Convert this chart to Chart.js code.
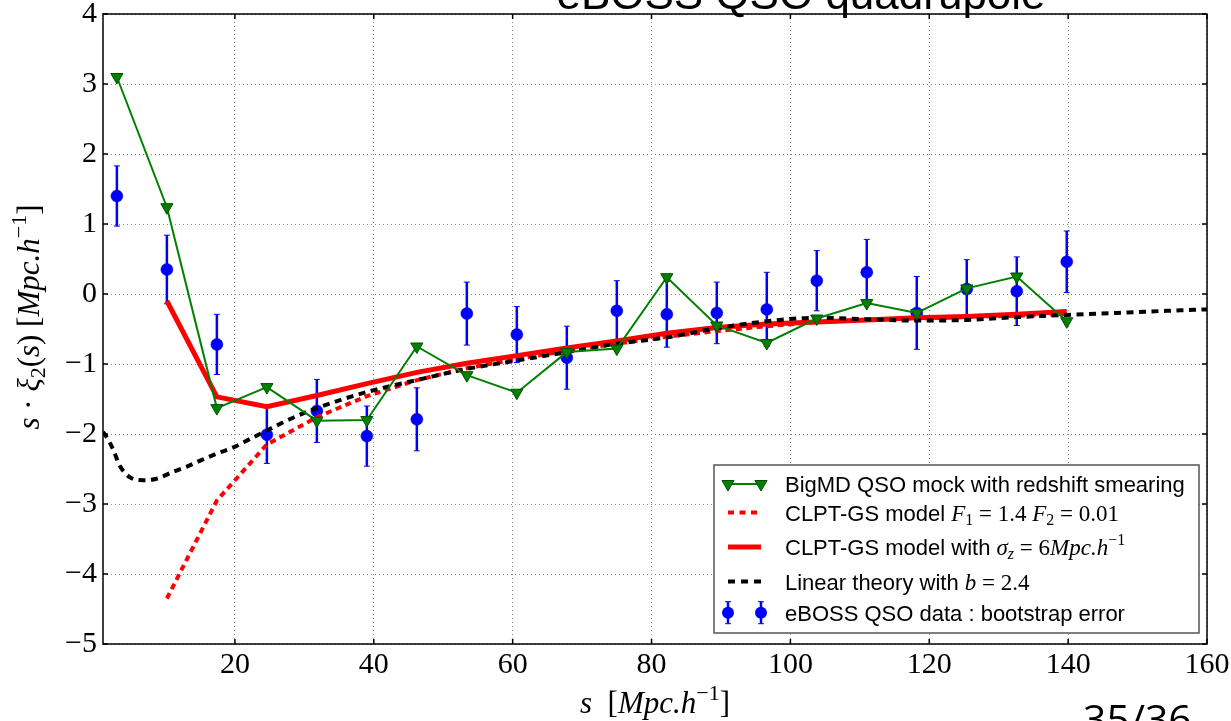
<!DOCTYPE html>
<html><head><meta charset="utf-8">
<script src="https://cdn.jsdelivr.net/npm/chart.js@4.4.0/dist/chart.umd.min.js"></script>
<style>html,body{margin:0;padding:0;background:#fff;} canvas{display:block}</style>
</head><body>
<canvas id="c" width="1231" height="721"></canvas>
<script>
// ---------- data ----------
const sBins = [3.0, 10.2, 17.4, 24.6, 31.8, 39.0, 46.2, 53.4, 60.6, 67.8, 75.0, 82.2, 89.4, 96.6, 103.8, 111.0, 118.2, 125.4, 132.6, 139.8];
const mockValues = [3.10, 1.24, -1.63, -1.33, -1.81, -1.80, -0.75, -1.16, -1.41, -0.83, -0.78, 0.24, -0.45, -0.70, -0.35, -0.13, -0.27, 0.08, 0.25, -0.39];
const dataValues = [1.40, 0.35, -0.72, -2.01, -1.67, -2.03, -1.79, -0.28, -0.58, -0.91, -0.24, -0.29, -0.27, -0.22, 0.19, 0.31, -0.27, 0.07, 0.04, 0.46];
const dataErrors = [0.43, 0.49, 0.43, 0.41, 0.45, 0.43, 0.45, 0.45, 0.40, 0.45, 0.43, 0.47, 0.44, 0.53, 0.43, 0.47, 0.52, 0.42, 0.49, 0.44];
const modelS = [10.2, 17.4, 24.6, 31.8, 39.0, 46.2, 53.4, 60.6, 67.8, 75.0, 82.2, 89.4, 96.6, 103.8, 111.0, 118.2, 125.4, 132.6, 139.8];
const clptSmearValues = [-0.10, -1.47, -1.61, -1.45, -1.28, -1.12, -0.99, -0.88, -0.77, -0.67, -0.56, -0.48, -0.43, -0.40, -0.37, -0.34, -0.32, -0.29, -0.25];
const clptValues = [-4.35, -2.95, -2.15, -1.76, -1.46, -1.23, -1.06, -0.93, -0.81, -0.71, -0.61, -0.53, -0.46, -0.40, -0.37, -0.35, -0.33, -0.31, -0.29];
const linearS = [1.0, 1.5, 2.5, 3.4, 4.9, 6.8, 8.7, 11.1, 13.0, 15.0, 17.4, 19.8, 22.2, 24.6, 27.0, 29.0, 31.8, 39.0, 46.2, 53.4, 60.6, 67.8, 75.0, 82.2, 89.4, 96.6, 103.8, 111.0, 118.2, 125.4, 132.6, 139.8, 147.0, 154.2, 160.0];
const linearValues = [-1.97, -2.04, -2.23, -2.45, -2.62, -2.66, -2.64, -2.54, -2.47, -2.38, -2.28, -2.19, -2.07, -1.95, -1.83, -1.74, -1.63, -1.40, -1.23, -1.07, -0.95, -0.83, -0.71, -0.62, -0.49, -0.39, -0.34, -0.36, -0.38, -0.37, -0.33, -0.30, -0.27, -0.24, -0.22];
const xTickValues = [20, 40, 60, 80, 100, 120, 140, 160];
const yTickValues = [-5, -4, -3, -2, -1, 0, 1, 2, 3, 4];
const chartTitle = 'eBOSS QSO quadrupole';
const pageNumber = '35/36';
const legendLabels = [
  'BigMD QSO mock with redshift smearing',
  'CLPT-GS model ',
  'CLPT-GS model with ',
  'Linear theory with ',
  'eBOSS QSO data : bootstrap error'
];

// ---------- helpers ----------
const SERIF = '"Liberation Serif", "DejaVu Serif", serif';
const SANS = '"Liberation Sans", Arial, sans-serif';
const pts = (xs, ys) => xs.map((x, i) => ({x: x, y: ys[i]}));
const fmt = v => String(v).replace('-', '\u2212');
function richWidth(ctx, segs) { let w = 0; for (const s of segs) { ctx.font = s.f; w += ctx.measureText(s.t).width; } return w; }
function drawRich(ctx, x, y, segs) { for (const s of segs) { ctx.font = s.f; ctx.fillText(s.t, x, y + (s.dy || 0)); x += ctx.measureText(s.t).width; } return x; }
function tri(ctx, x, y, r) {
  ctx.beginPath();
  ctx.moveTo(x, y + r);
  ctx.lineTo(x - Math.sin(Math.PI / 3) * r, y - r / 2);
  ctx.lineTo(x + Math.sin(Math.PI / 3) * r, y - r / 2);
  ctx.closePath();
  ctx.fillStyle = '#008000'; ctx.fill();
  ctx.strokeStyle = '#005000'; ctx.lineWidth = 1; ctx.stroke();
}

const errorBars = {
  id: 'errorBars',
  beforeDatasetsDraw(chart) {
    const {ctx, chartArea: a, scales: {x, y}} = chart;
    ctx.save();
    ctx.beginPath(); ctx.rect(a.left, a.top, a.right - a.left, a.bottom - a.top); ctx.clip();
    ctx.strokeStyle = '#0000ff';
    sBins.forEach((s, i) => {
      const px = x.getPixelForValue(s);
      const y1 = y.getPixelForValue(dataValues[i] + dataErrors[i]);
      const y2 = y.getPixelForValue(dataValues[i] - dataErrors[i]);
      ctx.lineWidth = 2.5;
      ctx.beginPath(); ctx.moveTo(px, y1); ctx.lineTo(px, y2); ctx.stroke();
      ctx.lineWidth = 1;
      ctx.beginPath(); ctx.moveTo(px - 3, y1); ctx.lineTo(px + 3, y1); ctx.moveTo(px - 3, y2); ctx.lineTo(px + 3, y2); ctx.stroke();
    });
    ctx.restore();
  }
};

const frameAndDecor = {
  id: 'frameAndDecor',
  afterDatasetsDraw(chart) {
    const {ctx, chartArea: a, scales: {x, y}} = chart;
    ctx.save();
    ctx.strokeStyle = '#000'; ctx.lineWidth = 1.5;
    ctx.strokeRect(a.left, a.top, a.right - a.left, a.bottom - a.top);
    ctx.beginPath();
    xTickValues.forEach(v => { const p = x.getPixelForValue(v); ctx.moveTo(p, a.bottom); ctx.lineTo(p, a.bottom - 5); ctx.moveTo(p, a.top); ctx.lineTo(p, a.top + 5); });
    yTickValues.forEach(v => { const p = y.getPixelForValue(v); ctx.moveTo(a.left, p); ctx.lineTo(a.left + 5, p); ctx.moveTo(a.right, p); ctx.lineTo(a.right - 5, p); });
    ctx.stroke();

    // legend
    const L = 714, T = 465, W = 485, H = 168;
    ctx.fillStyle = '#fff'; ctx.fillRect(L, T, W, H);
    ctx.strokeStyle = '#555'; ctx.lineWidth = 1.5; ctx.strokeRect(L, T, W, H);
    const rows = [484, 512.5, 547, 581.5, 612.7];
    const x1 = 728, x2 = 761, tx = 785;
    // row 1
    ctx.strokeStyle = '#008000'; ctx.lineWidth = 2;
    ctx.beginPath(); ctx.moveTo(x1, rows[0]); ctx.lineTo(x2, rows[0]); ctx.stroke();
    tri(ctx, x1, rows[0], 7); tri(ctx, x2, rows[0], 7);
    // row 2
    ctx.strokeStyle = '#ff0000'; ctx.lineWidth = 4; ctx.setLineDash([6, 5.5]);
    ctx.beginPath(); ctx.moveTo(x1, rows[1]); ctx.lineTo(x2, rows[1]); ctx.stroke();
    // row 3
    ctx.setLineDash([]); ctx.lineWidth = 5;
    ctx.beginPath(); ctx.moveTo(x1, rows[2]); ctx.lineTo(x2, rows[2]); ctx.stroke();
    // row 4
    ctx.strokeStyle = '#000'; ctx.lineWidth = 4; ctx.setLineDash([7, 6]);
    ctx.beginPath(); ctx.moveTo(x1, rows[3]); ctx.lineTo(x2, rows[3]); ctx.stroke();
    ctx.setLineDash([]);
    // row 5
    [x1, x2].forEach(px => {
      ctx.strokeStyle = '#0000ff'; ctx.lineWidth = 2.5;
      ctx.beginPath(); ctx.moveTo(px, rows[4] - 11); ctx.lineTo(px, rows[4] + 11); ctx.stroke();
      ctx.lineWidth = 1;
      ctx.beginPath(); ctx.moveTo(px - 3, rows[4] - 11); ctx.lineTo(px + 3, rows[4] - 11); ctx.moveTo(px - 3, rows[4] + 11); ctx.lineTo(px + 3, rows[4] + 11); ctx.stroke();
      ctx.beginPath(); ctx.arc(px, rows[4], 6, 0, Math.PI * 2); ctx.fillStyle = '#0000ff'; ctx.fill();
    });
    ctx.fillStyle = '#000'; ctx.textAlign = 'left'; ctx.textBaseline = 'alphabetic';
    const sf = `22px ${SANS}`, mi = `italic 23px ${SERIF}`, mn = `23px ${SERIF}`, ms = `16px ${SERIF}`, msi = `italic 16px ${SERIF}`;
    const off = 8;
    drawRich(ctx, tx, rows[0] + off, [{t: legendLabels[0], f: sf}]);
    drawRich(ctx, tx, rows[1] + off, [{t: legendLabels[1], f: sf}, {t: 'F', f: mi}, {t: '1', f: ms, dy: 4}, {t: ' = 1.4 ', f: mn}, {t: 'F', f: mi}, {t: '2', f: ms, dy: 4}, {t: ' = 0.01', f: mn}]);
    drawRich(ctx, tx, rows[2] + off, [{t: legendLabels[2], f: sf}, {t: 'σ', f: mi}, {t: 'z', f: msi, dy: 4}, {t: ' = 6', f: mn}, {t: 'Mpc.h', f: mi}, {t: '\u22121', f: ms, dy: -10}]);
    drawRich(ctx, tx, rows[3] + off, [{t: legendLabels[3], f: sf}, {t: 'b', f: mi}, {t: ' = 2.4', f: mn}]);
    drawRich(ctx, tx, rows[4] + off, [{t: legendLabels[4], f: sf}]);
    ctx.restore();
  },
  afterDraw(chart) {
    const {ctx, chartArea: a} = chart;
    ctx.save();
    ctx.fillStyle = '#000'; ctx.textBaseline = 'alphabetic';
    // title (partly outside the top of the image)
    ctx.font = `44px ${SANS}`; ctx.textAlign = 'center';
    ctx.fillText(chartTitle, 801, 9);
    // page number (cut at bottom)
    ctx.font = `41px "Open Sans", "Noto Sans", sans-serif`; ctx.textAlign = 'left';
    ctx.fillText(pageNumber, 1083, 734);
    // axis titles
    ctx.textAlign = 'left';
    const N = `31px ${SERIF}`, I = `italic 31px ${SERIF}`, S = `22px ${SERIF}`;
    const xt = [{t: 's', f: I}, {t: '  [', f: N}, {t: 'Mpc.h', f: I}, {t: '\u22121', f: S, dy: -13}, {t: ']', f: N}];
    const cx = (a.left + a.right) / 2;
    drawRich(ctx, cx - richWidth(ctx, xt) / 2, 713, xt);
    const yt = [{t: 's', f: I}, {t: ' · ', f: N}, {t: 'ξ', f: I}, {t: '2', f: S, dy: 6}, {t: '(', f: N}, {t: 's', f: I}, {t: ') [', f: N}, {t: 'Mpc.h', f: I}, {t: '\u22121', f: S, dy: -13}, {t: ']', f: N}];
    ctx.translate(39, 317); ctx.rotate(-Math.PI / 2);
    drawRich(ctx, -richWidth(ctx, yt) / 2, 0, yt);
    ctx.restore();
  }
};

new Chart(document.getElementById('c'), {
  type: 'line',
  data: {
    datasets: [
      {label: legendLabels[0], data: pts(sBins, mockValues), borderColor: '#008000', backgroundColor: '#008000', borderWidth: 2,
       pointStyle: 'triangle', rotation: 180, pointRadius: 7, pointBorderColor: '#005000', pointBorderWidth: 1, tension: 0},
      {label: 'Linear theory', data: pts(linearS, linearValues), borderColor: '#000', borderWidth: 4, borderDash: [7, 5.5], pointRadius: 0, cubicInterpolationMode: 'monotone'},
      {label: 'CLPT smear', data: pts(modelS, clptSmearValues), borderColor: '#ff0000', borderWidth: 5, pointRadius: 0, tension: 0},
      {label: 'CLPT', data: pts(modelS, clptValues), borderColor: '#ff0000', borderWidth: 4, borderDash: [6, 4.5], pointRadius: 0, tension: 0},
      {label: legendLabels[4], data: pts(sBins, dataValues), showLine: false, pointRadius: 6, pointBackgroundColor: '#0000ff', pointBorderColor: '#0000cc', pointBorderWidth: 0.5}
    ]
  },
  options: {
    responsive: false, animation: false, devicePixelRatio: 1,
    layout: {padding: {left: 0, right: 24, top: 14, bottom: 0}},
    plugins: {legend: {display: false}, tooltip: {enabled: false}, title: {display: false}},
    scales: {
      x: {type: 'linear', min: 1, max: 160,
        afterBuildTicks: s => { s.ticks = xTickValues.map(v => ({value: v})); },
        afterFit: s => { s.height = 77; s.paddingLeft = 0; s.paddingRight = 0; },
        ticks: {font: {family: SERIF, size: 30}, color: '#000', padding: 3, maxRotation: 0, autoSkip: false, callback: fmt},
        grid: {color: '#8c8c8c', lineWidth: 1, drawTicks: false}, border: {display: false, dash: [1, 3]}},
      y: {type: 'linear', min: -5, max: 4,
        afterBuildTicks: s => { s.ticks = yTickValues.map(v => ({value: v})); },
        afterFit: s => { s.width = 103; s.paddingTop = 0; s.paddingBottom = 0; },
        ticks: {font: {family: SERIF, size: 30}, color: '#000', padding: 6, autoSkip: false, callback: fmt},
        grid: {color: '#8c8c8c', lineWidth: 1, drawTicks: false}, border: {display: false, dash: [1, 3]}}
    }
  },
  plugins: [errorBars, frameAndDecor]
});
</script>
</body></html>
